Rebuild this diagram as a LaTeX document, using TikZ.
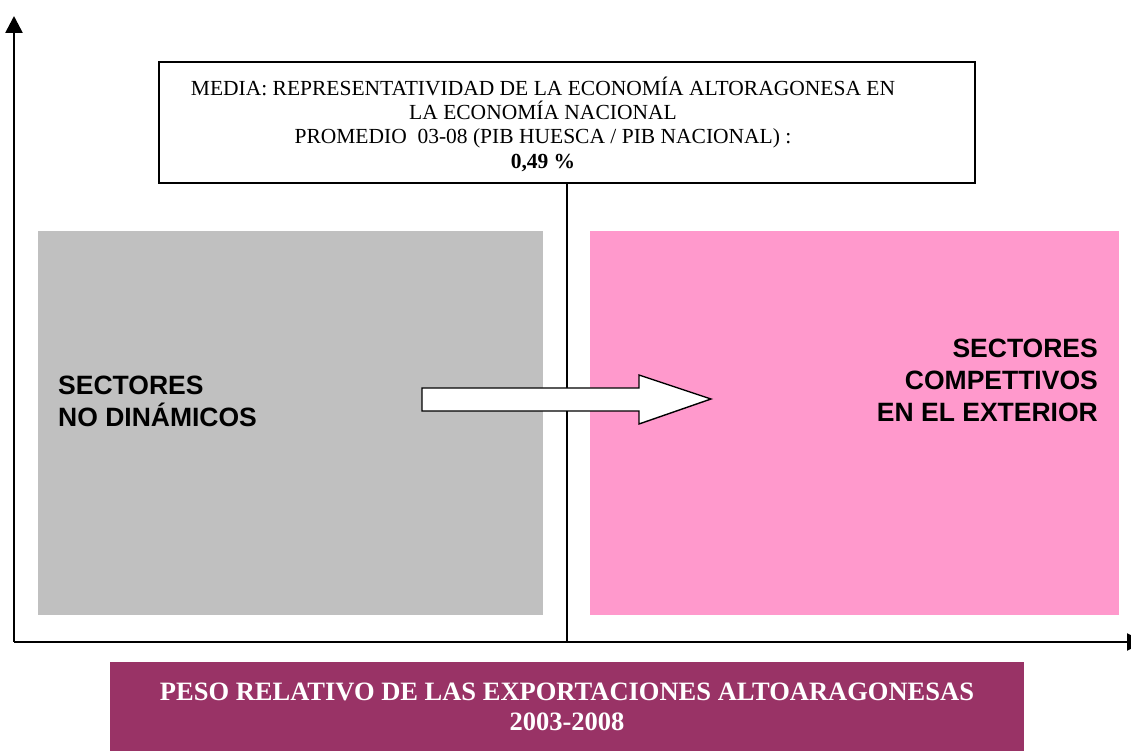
\documentclass[tikz,border=0pt]{standalone}
\usepackage{fontspec}
\setmainfont{Liberation Serif}
\setsansfont{Liberation Sans}
\usepackage{xcolor}
\usetikzlibrary{arrows.meta}

\definecolor{gris}{HTML}{C0C0C0}
\definecolor{rosa}{HTML}{FF99CC}
\definecolor{granate}{HTML}{993366}

\begin{document}
\begin{tikzpicture}[x=1pt,y=1pt,
    eje/.style={line width=2.6pt,-{Triangle[length=17pt,width=17pt]}},
    zona/.style={draw=none,inner sep=0pt,minimum width=#1,minimum height=384pt},
    rotulo/.style={font=\sffamily\bfseries\fontsize{26.5}{32}\selectfont},
    media/.style={draw,line width=1.4pt,fill=white,inner sep=0pt,minimum width=816pt,minimum height=121pt}]
  \useasboundingbox (0,0) rectangle (1131,751);

  \coordinate (o) at (14,109);
  \coordinate (y_fin) at (14,735);
  \coordinate (x_fin) at (1144,109);

  % zonas
  \node[zona=505pt,fill=gris] (n_izq) at (290.5,328) {};
  \node[zona=529pt,fill=rosa] (n_der) at (854.5,328) {};

  % media
  \node[media] (n_media) at (567,628.5) {};
  \node[align=center,inner sep=0pt,font=\fontsize{21.5}{24.3}\selectfont] (n_media_txt) at (543,627)
    {MEDIA: REPRESENTATIVIDAD DE LA ECONOMÍA ALTORAGONESA EN\\
    LA ECONOMÍA NACIONAL\\PROMEDIO\ \ 03-08 (PIB HUESCA / PIB NACIONAL) :\\\textbf{0,49 \%}};
  \coordinate (m_pie) at (567,109);
  \draw[line width=1.4pt] (n_media.south) -- (m_pie);

  % ejes
  \draw[eje] (o) -- (y_fin);
  \draw[eje] (o) -- (x_fin);

  \node[rotulo,anchor=west,align=left,inner sep=0pt] (t_izq) at (58,350) {SECTORES\\NO DINÁMICOS};
  \node[rotulo,anchor=east,align=right,inner sep=0pt] (t_der) at (1098,371) {SECTORES\\COMPETTIVOS\\EN EL EXTERIOR};

  % flecha
  \draw[line width=1.4pt,fill=white] (422,363) -- (639,363) -- (639,376) -- (711,352)
    -- (639,327) -- (639,340) -- (422,340) -- cycle;

  % titulo
  \node[fill=granate,inner sep=0pt,minimum width=914pt,minimum height=89pt,align=center,text=white,
    font=\bfseries\fontsize{26.5}{30}\selectfont] (n_titulo) at (567,44.5)
    {PESO RELATIVO DE LAS EXPORTACIONES ALTOARAGONESAS\\2003-2008};
\end{tikzpicture}
\end{document}
